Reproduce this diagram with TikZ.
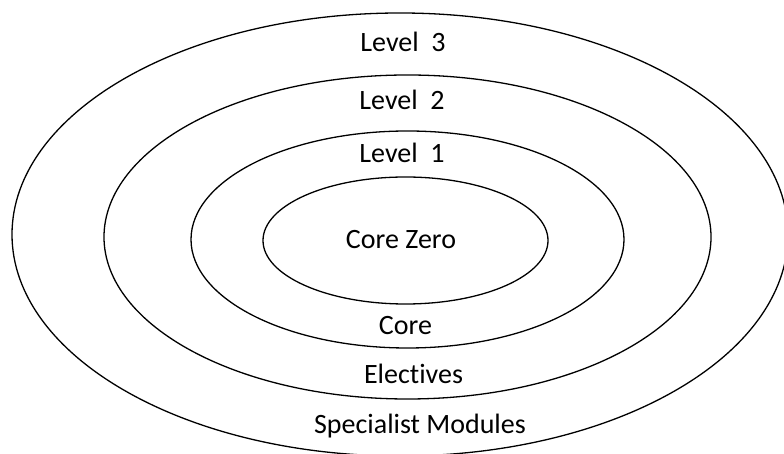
\documentclass[tikz,border=0pt]{standalone}
\usepackage{fontspec}
\setmainfont[Ligatures=NoCommon]{Carlito}
\usetikzlibrary{shapes.geometric}
\begin{document}
\begin{tikzpicture}[x=1pt,y=1pt,
  ring/.style={draw=black, line width=1.3pt, ellipse, inner sep=0pt, minimum width=#1},
  lab/.style={anchor=base, font=\fontsize{28}{30}\selectfont, inner sep=0pt}]
\useasboundingbox (0,0) rectangle (784,454);
\clip (0,0) rectangle (784,454);
% y = 454 - pixel row
\node[ring=776pt, minimum height=443pt] (outer) at (400,219.5) {};
\node[ring=607pt, minimum height=324pt] (lvl2) at (407.5,217) {};
\node[ring=433pt, minimum height=217pt] (lvl1) at (407.5,214.5) {};
\node[ring=285pt, minimum height=127pt] (corezero) at (405.5,213.5) {};
\node[lab] (t3) at (403,402) {Level~~3};
\node[lab] (t2) at (402,344) {Level~~2};
\node[lab] (t1) at (402,291) {Level~~1};
\node[lab] (tcz) at (401,205) {Core Zero};
\node[lab] (tc) at (405.5,119) {Core};
\node[lab] (te) at (413.5,70) {Electives};
\node[lab] (ts) at (420,20) {Specialist Modules};
\end{tikzpicture}
\end{document}
